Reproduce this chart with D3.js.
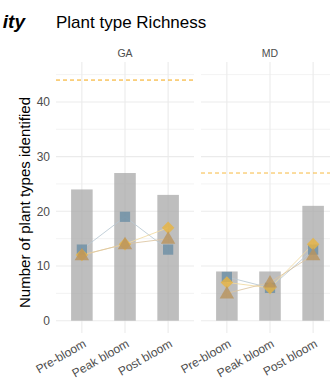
<!DOCTYPE html>
<html>
<head>
<meta charset="utf-8">
<script src="https://cdn.jsdelivr.net/npm/d3@7"></script>
<style>
  html, body { margin: 0; padding: 0; background: #fff; }
  svg { display: block; font-family: "Liberation Sans", Arial, sans-serif; }
</style>
</head>
<body>
<svg id="chart" width="330" height="381"></svg>
<script>
// Bloom stages and sites
const stages = ["Pre-bloom", "Peak bloom", "Post bloom"];
const sites = ["GA", "MD"];

// Total plant types per stage (bars)
const totalGA = [24, 27, 23];
const totalMD = [9, 9, 21];

// Plant types identified by each method (points)
const squareGA = [13, 19, 13];
const squareMD = [8, 6, 13];
const diamondGA = [12, 14, 17];
const diamondMD = [7, 6, 14];
const triangleGA = [12, 14, 15];
const triangleMD = [5, 7, 12];

// Site-level pool (dashed reference line)
const poolGA = 44;
const poolMD = 27;

const yTicks = [0, 10, 20, 30, 40];
const yMinor = [5, 15, 25, 35, 45];

const svg = d3.select("#chart");

const panelTop = 62, panelBottom = 333;
const panelW = 138;
const panelX = { GA: 56, MD: 201 };

const y = d3.scaleLinear().domain([-2.25, 47.3]).range([panelBottom, panelTop]);
const x = d3.scalePoint().domain(stages).range([0, panelW]).padding(0.6);
const step = x.step();

const seriesStyle = [
  { key: "square", color: "#6b8fa5", line: "#b8c8d2" },
  { key: "diamond", color: "#e8b440", line: "#f0d9a0" },
  { key: "triangle", color: "#b9935d", line: "#dcc4a0" }
];

const data = {
  GA: { total: totalGA, pool: poolGA, square: squareGA, diamond: diamondGA, triangle: triangleGA },
  MD: { total: totalMD, pool: poolMD, square: squareMD, diamond: diamondMD, triangle: triangleMD }
};

// Tail of the neighbouring panel's title
svg.append("text")
  .attr("x", 25).attr("y", 28)
  .attr("text-anchor", "end")
  .attr("font-size", 19).attr("font-weight", "bold").attr("font-style", "italic")
  .attr("fill", "#000")
  .text("ity");

svg.append("text")
  .attr("x", 56).attr("y", 28)
  .attr("font-size", 17).attr("fill", "#000")
  .text("Plant type Richness");

// Y axis title
svg.append("text")
  .attr("transform", `translate(30,${(panelTop + panelBottom) / 2 + 5}) rotate(-90)`)
  .attr("text-anchor", "middle")
  .attr("font-size", 15).attr("fill", "#000")
  .text("Number of plant types identified");

// Y tick labels
svg.append("g").selectAll("text").data(yTicks).join("text")
  .attr("x", 50).attr("y", d => y(d) + 4.2)
  .attr("text-anchor", "end")
  .attr("font-size", 12).attr("fill", "#4d4d4d")
  .text(d => d);

const symbolFor = {
  square: d3.symbol().type(d3.symbolSquare).size(105),
  diamond: d3.symbol().type(d3.symbolDiamond2).size(100),
  triangle: d3.symbol().type(d3.symbolTriangle).size(90)
};

sites.forEach(site => {
  const d = data[site];
  const g = svg.append("g").attr("transform", `translate(${panelX[site]},0)`);
  const clip = "clip-" + site;
  svg.append("clipPath").attr("id", clip)
    .append("rect").attr("x", 0).attr("y", panelTop).attr("width", panelW).attr("height", panelBottom - panelTop);

  const grid = g.append("g").attr("clip-path", `url(#${clip})`);
  grid.selectAll("line.minor").data(yMinor).join("line")
    .attr("x1", 0).attr("x2", panelW)
    .attr("y1", v => y(v)).attr("y2", v => y(v))
    .attr("stroke", "#f0f0f0").attr("stroke-width", 0.8);
  grid.selectAll("line.major").data(yTicks).join("line")
    .attr("x1", 0).attr("x2", panelW)
    .attr("y1", v => y(v)).attr("y2", v => y(v))
    .attr("stroke", "#ebebeb").attr("stroke-width", 1.1);
  grid.selectAll("line.vx").data(stages).join("line")
    .attr("x1", s => x(s)).attr("x2", s => x(s))
    .attr("y1", panelTop).attr("y2", panelBottom)
    .attr("stroke", "#ebebeb").attr("stroke-width", 1.1);

  // Strip label
  g.append("text")
    .attr("x", panelW / 2).attr("y", 57)
    .attr("text-anchor", "middle")
    .attr("font-size", 10.5).attr("fill", "#4d4d4d")
    .text(site);

  const plot = g.append("g");

  // Bars
  plot.selectAll("rect.bar").data(stages).join("rect")
    .attr("x", s => x(s) - step * 0.25)
    .attr("width", step * 0.5)
    .attr("y", (s, i) => y(d.total[i]))
    .attr("height", (s, i) => y(0) - y(d.total[i]))
    .attr("fill", "#a8a8a8").attr("fill-opacity", 0.75);

  // Pool line
  plot.append("line")
    .attr("x1", 0).attr("x2", panelW)
    .attr("y1", y(d.pool)).attr("y2", y(d.pool))
    .attr("stroke", "#f5a60f").attr("stroke-width", 1)
    .attr("stroke-opacity", site === "GA" ? 1 : 0.8)
    .attr("stroke-dasharray", "4,3");

  // Connecting lines
  seriesStyle.forEach(sr => {
    const line = d3.line().x((v, i) => x(stages[i])).y(v => y(v));
    plot.append("path")
      .attr("d", line(d[sr.key]))
      .attr("fill", "none")
      .attr("stroke", sr.line).attr("stroke-width", 1).attr("stroke-opacity", 0.85);
  });

  // Points
  seriesStyle.forEach(sr => {
    plot.selectAll("path.p-" + sr.key).data(d[sr.key]).join("path")
      .attr("class", "p-" + sr.key)
      .attr("transform", (v, i) => `translate(${x(stages[i])},${y(v) + (sr.key === "triangle" ? 1 : 0)})`)
      .attr("d", symbolFor[sr.key])
      .attr("fill", sr.color).attr("fill-opacity", 0.8);
  });

  // X tick labels
  g.append("g").selectAll("text").data(stages).join("text")
    .attr("transform", s => `translate(${x(s) + 5},${panelBottom + 13}) rotate(-30)`)
    .attr("text-anchor", "end")
    .attr("font-size", 12).attr("fill", "#4d4d4d")
    .text(s => s);
});
</script>
</body>
</html>
